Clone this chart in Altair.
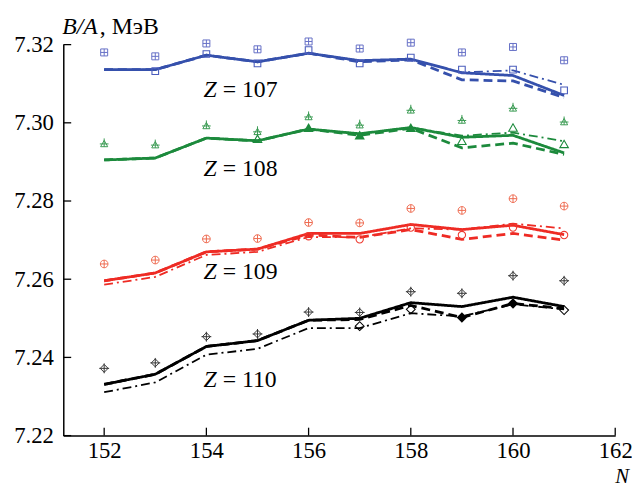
import altair as alt
import pandas as pd

# ---------------- data ----------------
N = [152, 153, 154, 155, 156, 157, 158, 159, 160, 161]

z107_solid = [7.3136, 7.3136, 7.3173, 7.3156, 7.3178, 7.3159, 7.3163, 7.3128, 7.3121, 7.3070]
z107_dash = [7.3136, 7.3136, 7.3173, 7.3156, 7.3178, 7.3156, 7.3161, 7.3110, 7.3107, 7.3065]
z107_dashdot = [7.3136, 7.3136, 7.3173, 7.3156, 7.3178, 7.3158, 7.3162, 7.3129, 7.3134, 7.3097]
z107_open = [None, 7.3132, 7.3176, 7.3152, 7.3186, 7.3152, 7.3167, 7.3136, 7.3136, 7.3083]
z107_cross = [7.3180, 7.3170, 7.3203, 7.3188, 7.3208, 7.3190, 7.3205, 7.3180, 7.3194, 7.3160]

z108_solid = [7.2905, 7.2910, 7.2961, 7.2954, 7.2984, 7.2972, 7.2988, 7.2963, 7.2968, 7.2923]
z108_dash = [7.2905, 7.2910, 7.2961, 7.2954, 7.2984, 7.2968, 7.2986, 7.2936, 7.2948, 7.2919]
z108_dashdot = [7.2905, 7.2910, 7.2961, 7.2954, 7.2984, 7.2972, 7.2988, 7.2967, 7.2975, 7.2953]
z108_open = [None, None, None, 7.2959, None, None, None, 7.2954, 7.2988, 7.2946]
z108_filled = [None, None, None, None, 7.2988, 7.2969, 7.2988, None, None, None]
z108_cross = [7.2947, 7.2944, 7.2993, 7.2978, 7.3016, 7.2995, 7.3033, 7.3007, 7.3038, 7.3003]

z109_solid = [7.2596, 7.2616, 7.2670, 7.2677, 7.2717, 7.2717, 7.2740, 7.2727, 7.2738, 7.2714]
z109_dash = [7.2596, 7.2616, 7.2670, 7.2677, 7.2713, 7.2707, 7.2727, 7.2702, 7.2717, 7.2700]
z109_dashdot = [7.2586, 7.2606, 7.2662, 7.2670, 7.2708, 7.2707, 7.2730, 7.2727, 7.2742, 7.2730]
z109_open = [None, None, None, None, 7.2710, 7.2702, 7.2732, 7.2713, 7.2732, 7.2713]
z109_cross = [7.2639, 7.2649, 7.2703, 7.2704, 7.2745, 7.2744, 7.2781, 7.2776, 7.2806, 7.2787]

z110_solid = [7.2331, 7.2357, 7.2428, 7.2443, 7.2495, 7.2500, 7.2540, 7.2530, 7.2554, 7.2530]
z110_dash = [7.2331, 7.2357, 7.2428, 7.2443, 7.2495, 7.2497, 7.2533, 7.2502, 7.2538, 7.2525]
z110_dashdot = [7.2311, 7.2336, 7.2407, 7.2422, 7.2475, 7.2475, 7.2513, 7.2505, 7.2536, 7.2523]
z110_open = [None, None, None, None, None, 7.2480, 7.2523, None, None, 7.2521]
z110_filled = [None, None, None, None, None, None, None, 7.2502, 7.2538, None]
z110_cross = [7.2372, 7.2386, 7.2453, 7.2460, 7.2516, 7.2515, 7.2568, 7.2564, 7.2609, 7.2596]

Z_TEXT = ["= 107", "= 108", "= 109", "= 110"]
Z_LABEL_N = 154.32
Z_LABEL_V = [7.3084, 7.2882, 7.2619, 7.2341]

X_TICKS = [152, 154, 156, 158, 160, 162]
Y_TICKS = [7.22, 7.24, 7.26, 7.28, 7.30, 7.32]

# ---------------- styling ----------------
FONT = "Liberation Serif"
W, H = 559, 396

xscale = alt.Scale(domain=[151.2, 162], nice=False, zero=False)
yscale = alt.Scale(domain=[7.22, 7.32], nice=False, zero=False)

xaxis = alt.Axis(values=X_TICKS, format="d", title=None, grid=False, ticks=False, tickSize=0,
                 labelFont=FONT, labelFontSize=23, labelColor="black", labelPadding=4,
                 domainColor="black", domainWidth=1.5, labelFlush=False)
yaxis = alt.Axis(values=Y_TICKS, format=".2f", title=None, grid=False, ticks=False, tickSize=0,
                 labelFont=FONT, labelFontSize=23, labelColor="black", labelPadding=10,
                 domainColor="black", domainWidth=1.5, labelBaseline="middle")

X = alt.X("N:Q", scale=xscale, axis=xaxis)
Y = alt.Y("v:Q", scale=yscale, axis=yaxis)


def frame(vals):
    return pd.DataFrame({"N": N, "v": vals}).dropna()


def line(vals, color, dash, width):
    return alt.Chart(frame(vals)).mark_line(
        color=color, strokeDash=dash, strokeWidth=width, strokeCap="butt"
    ).encode(x=X, y=Y)


def pts(vals, color, shape, size, filled, sw=1.1):
    return alt.Chart(frame(vals)).mark_point(
        shape=shape, size=size, filled=filled, color=color, strokeWidth=sw, opacity=1
    ).encode(x=X, y=Y)


SQ_X = "M-1,-1H1V1H-1Z M0,-1V1 M-1,0H1"
TRI_X = "M0,-0.8L0.9,0.8L-0.9,0.8Z M0,-1.3V0.8 M-1.1,0.1H1.1"
CIRC_X = "M-1,0A1,1,0,1,1,1,0A1,1,0,1,1,-1,0Z M0,-1V1 M-1,0H1"
DIA_X = "M0,-1L1,0L0,1L-1,0Z M0,-1.25V1.25 M-1.25,0H1.25"

DASH = [9, 5]
DASHDOT = [9, 4, 2, 4]

groups = [
    dict(c="#3550ac", co="#4a5cbc", cx="#6670c6", solid=z107_solid, dash=z107_dash, dd=z107_dashdot,
         open=z107_open, oshape="square", osize=45, cross=z107_cross, xshape=SQ_X, xsize=50,
         filled=None, fshape=None),
    dict(c="#1c8a3c", co="#1c8a3c", cx="#3a9a52", solid=z108_solid, dash=z108_dash, dd=z108_dashdot,
         open=z108_open, oshape="triangle-up", osize=75, cross=z108_cross, xshape=TRI_X, xsize=64,
         filled=z108_filled, fshape="triangle-up"),
    dict(c="#ee2b24", co="#ee3a30", cx="#ee6a4f", solid=z109_solid, dash=z109_dash, dd=z109_dashdot,
         open=z109_open, oshape="circle", osize=55, cross=z109_cross, xshape=CIRC_X, xsize=60,
         filled=None, fshape=None),
    dict(c="#000000", co="#000000", cx="#333333", solid=z110_solid, dash=z110_dash, dd=z110_dashdot,
         open=z110_open, oshape="diamond", osize=80, cross=z110_cross, xshape=DIA_X, xsize=64,
         filled=z110_filled, fshape="diamond"),
]

layers = []

# inward tick marks
xt = alt.Chart(pd.DataFrame({"N": X_TICKS})).mark_rule(color="black", strokeWidth=1.3).encode(
    x=X, y=alt.value(H), y2=alt.value(H - 8))
yt = alt.Chart(pd.DataFrame({"v": Y_TICKS})).mark_rule(color="black", strokeWidth=1.3).encode(
    y=Y, x=alt.value(0), x2=alt.value(8))
layers += [xt, yt]

for g in groups:
    layers.append(line(g["dd"], g["c"], DASHDOT, 1.8))
    layers.append(line(g["dash"], g["c"], DASH, 2.8))
    layers.append(line(g["solid"], g["c"], [1, 0], 2.8))
    layers.append(pts(g["cross"], g["cx"], g["xshape"], g["xsize"], False, 1.0))
    layers.append(pts(g["open"], g["co"], g["oshape"], g["osize"], False, 1.1))
    if g["filled"] is not None:
        layers.append(pts(g["filled"], g["c"], g["fshape"], 110, True, 1))

# Z labels
ann = pd.DataFrame({"N": [Z_LABEL_N] * 4, "v": Z_LABEL_V, "t": Z_TEXT, "z": ["Z"] * 4})
layers.append(alt.Chart(ann).mark_text(font=FONT, fontSize=24, fontStyle="italic", align="right",
                                       baseline="middle", dx=-6, color="black").encode(x=X, y=Y, text="z:N"))
layers.append(alt.Chart(ann).mark_text(font=FONT, fontSize=24, align="left",
                                       baseline="middle", color="black").encode(x=X, y=Y, text="t:N"))

# axis titles
one = pd.DataFrame({"a": [0]})
layers.append(alt.Chart(one).mark_text(text="B/A", font=FONT, fontSize=24, fontStyle="italic",
                                       align="left", baseline="alphabetic", color="black")
              .encode(x=alt.value(-1), y=alt.value(-11)))
layers.append(alt.Chart(one).mark_text(text=", МэВ", font=FONT, fontSize=24,
                                       align="left", baseline="alphabetic", color="black")
              .encode(x=alt.value(37), y=alt.value(-11)))
layers.append(alt.Chart(one).mark_text(text="N", font=FONT, fontSize=21, fontStyle="italic",
                                       align="right", baseline="bottom", color="black")
              .encode(x=alt.value(W + 14), y=alt.value(H + 52)))

chart = alt.layer(*layers).properties(
    width=W, height=H,
    padding={"left": 56, "top": 34, "right": 17, "bottom": 52},
    autosize=alt.AutoSizeParams(type="none"),
    background="white",
).configure_view(stroke=None)

chart.save("out.html", embed_options={"renderer": "svg", "actions": False})
